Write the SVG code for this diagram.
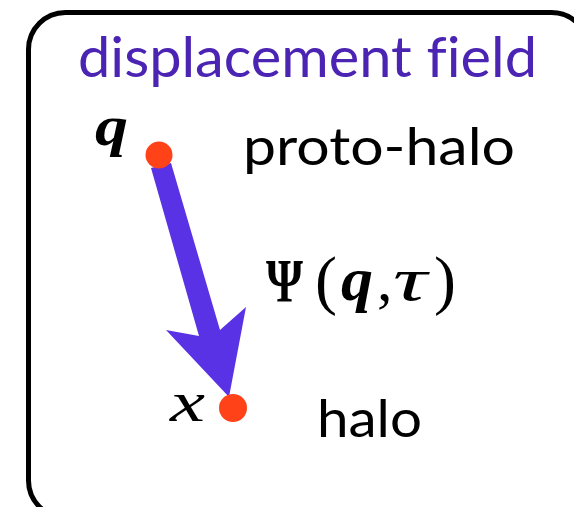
<svg xmlns="http://www.w3.org/2000/svg" width="574" height="507" viewBox="0 0 574 507">
<style>
.sans{font-family:Lato,"Liberation Sans",sans-serif;font-variant-ligatures:none}
.math{font-family:"Liberation Serif","DejaVu Serif",serif;fill:#000}
.dot{fill:#ff4218}
</style>
<rect width="574" height="507" fill="#fff"/>
<g id="frame">
<rect x="28.5" y="12.5" width="560" height="505" rx="37" ry="37" fill="none" stroke="#000" stroke-width="5"/>
</g>
<g id="title">
<text class="sans" x="78" y="77" font-size="57" fill="#4b24b3" textLength="459" lengthAdjust="spacingAndGlyphs">displacement field</text>
</g>
<g id="connectors">
<polygon points="151,168 171,163 220,330 246,307 229,397 166,330 199,336" fill="#5a32e6"/>
</g>
<g id="protohalo">
<circle class="dot" cx="159" cy="155" r="13.5"/>
<text class="math" x="95" y="145" font-size="58" font-weight="bold" font-style="italic" textLength="33" lengthAdjust="spacingAndGlyphs">q</text>
<text class="sans" x="243" y="165" font-size="53" fill="#000" textLength="272" lengthAdjust="spacingAndGlyphs">proto-halo</text>
</g>
<g id="halo">
<circle class="dot" cx="233" cy="408" r="14"/>
<text class="math" x="170" y="421" font-size="58" font-style="italic" textLength="35" lengthAdjust="spacingAndGlyphs">x</text>
<text class="sans" x="317" y="437" font-size="53" fill="#000" textLength="105" lengthAdjust="spacingAndGlyphs">halo</text>
</g>
<g id="label">
<text class="math" x="266" y="301" font-size="62" font-weight="bold" textLength="37" lengthAdjust="spacingAndGlyphs">Ψ</text>
<text class="math" x="315" y="302" font-size="66">(</text>
<text class="math" x="341" y="300" font-size="62" font-weight="bold" font-style="italic" textLength="32" lengthAdjust="spacingAndGlyphs">q</text>
<text class="math" x="377" y="300" font-size="62">,</text>
<text class="math" x="393" y="300" font-size="62" font-style="italic" textLength="34" lengthAdjust="spacingAndGlyphs">τ</text>
<text class="math" x="434" y="302" font-size="66">)</text>
</g>
</svg>
